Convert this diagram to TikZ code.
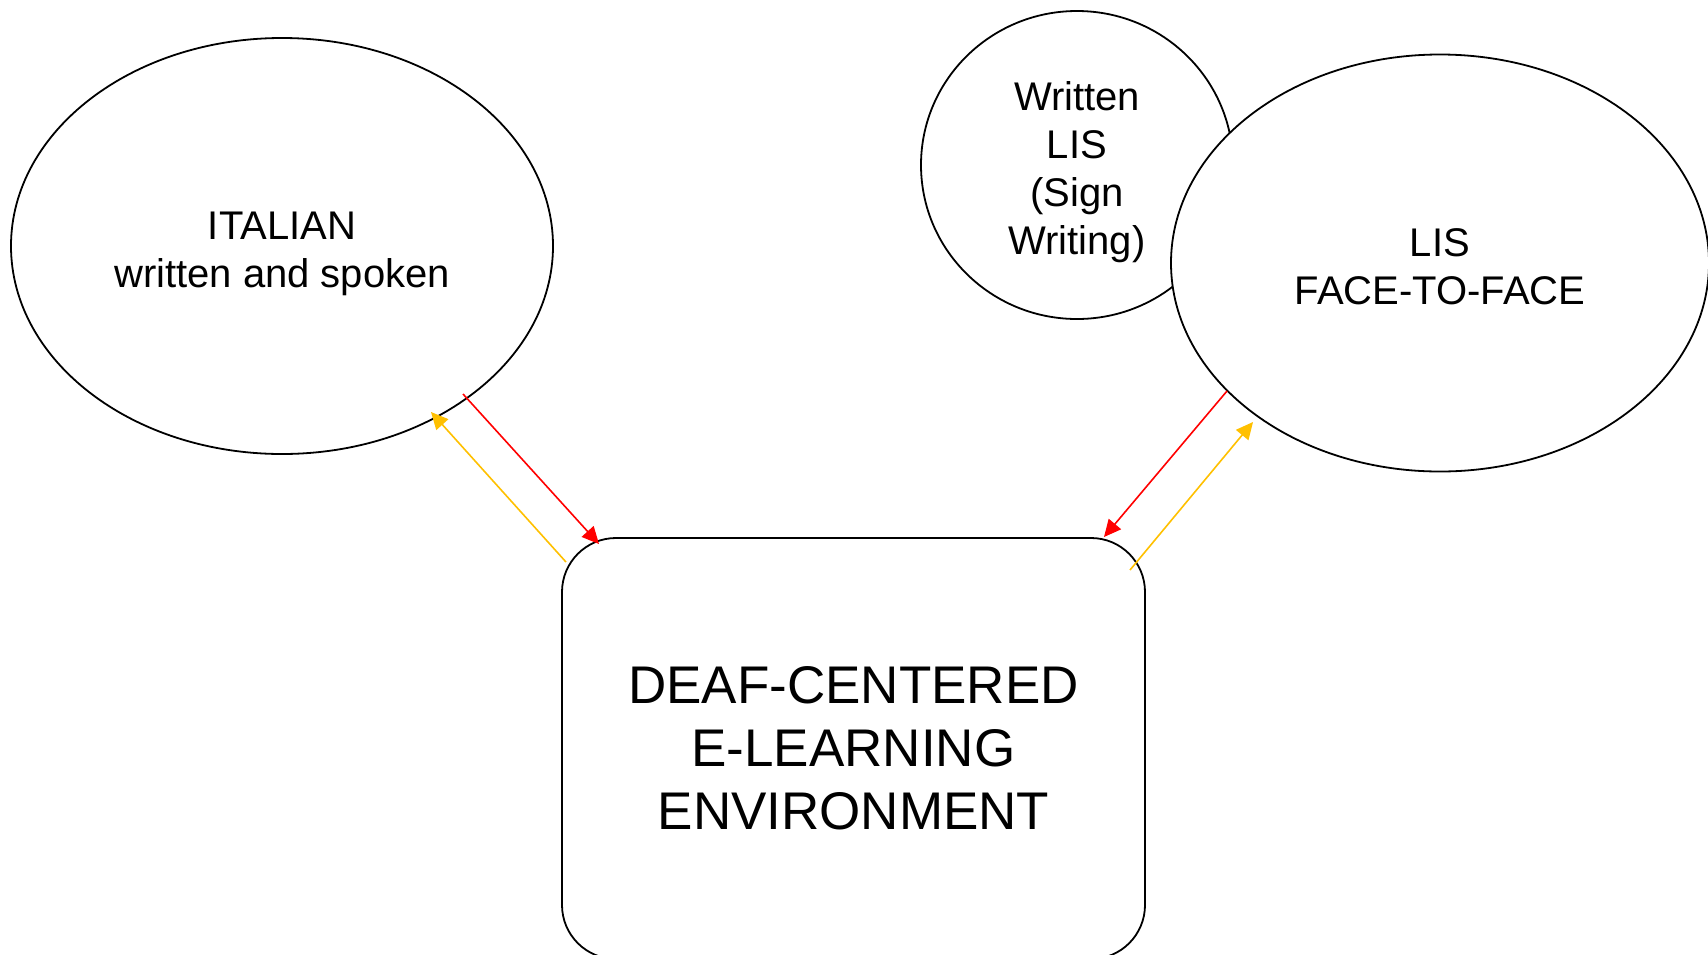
\documentclass[tikz,border=0pt]{standalone}
\usepackage{fontspec}
\setmainfont{Liberation Sans}
\usetikzlibrary{shapes.geometric,arrows.meta}
\definecolor{arrred}{RGB}{255,0,0}
\definecolor{arryel}{RGB}{255,192,0}
\newcommand\firstlinepad[1]{\rule{0pt}{#1}}
\tikzset{
  bubble/.style={ellipse, draw=black, line width=0.9pt, fill=white, inner sep=0pt, align=center,
                 font=\fontsize{20}{24}\selectfont},
  envbox/.style={draw=black, line width=0.9pt, rounded corners=27pt, inner sep=0pt, align=center,
                 font=\fontsize{26.5}{31.6}\selectfont},
  redarrow/.style={draw=arrred, line width=0.8pt, -{Triangle[length=8.5pt,width=8pt]}},
  yelarrow/.style={draw=arryel, line width=0.8pt, -{Triangle[length=8.5pt,width=8pt]}}
}
\begin{document}
\begin{tikzpicture}[x=0.5pt,y=-0.5pt]
\useasboundingbox (0,0) rectangle (1708,954);
\begin{scope}
\clip (0,0) rectangle (1708,954);
\node[bubble, minimum width=271pt, minimum height=208pt] (italian) at (282,246)
  {\firstlinepad{21.5pt}ITALIAN\\written and spoken};
\node[bubble, minimum width=156pt, minimum height=154pt] (written) at (1077,165)
  {\firstlinepad{22pt}Written\\LIS\\(Sign\\Writing)};
\node[bubble, minimum width=269pt, minimum height=208.5pt] (lis) at (1440,263)
  {\firstlinepad{17.6pt}LIS\\FACE-TO-FACE};
\node[envbox, minimum width=291.5pt, minimum height=210.5pt] (env) at (853.5,748.5)
  {DEAF-CENTERED\\E-LEARNING\\ENVIRONMENT};
\end{scope}
\coordinate (rlA) at (463,394);
\coordinate (rlB) at (599,544);
\coordinate (ylA) at (566,562);
\coordinate (ylB) at (431,412);
\coordinate (rrA) at (1227,391);
\coordinate (rrB) at (1104,537);
\coordinate (yrA) at (1130,570);
\coordinate (yrB) at (1253,422);
\draw[redarrow] (rlA) -- (rlB);
\draw[yelarrow] (ylA) -- (ylB);
\draw[redarrow] (rrA) -- (rrB);
\draw[yelarrow] (yrA) -- (yrB);
\end{tikzpicture}
\end{document}
